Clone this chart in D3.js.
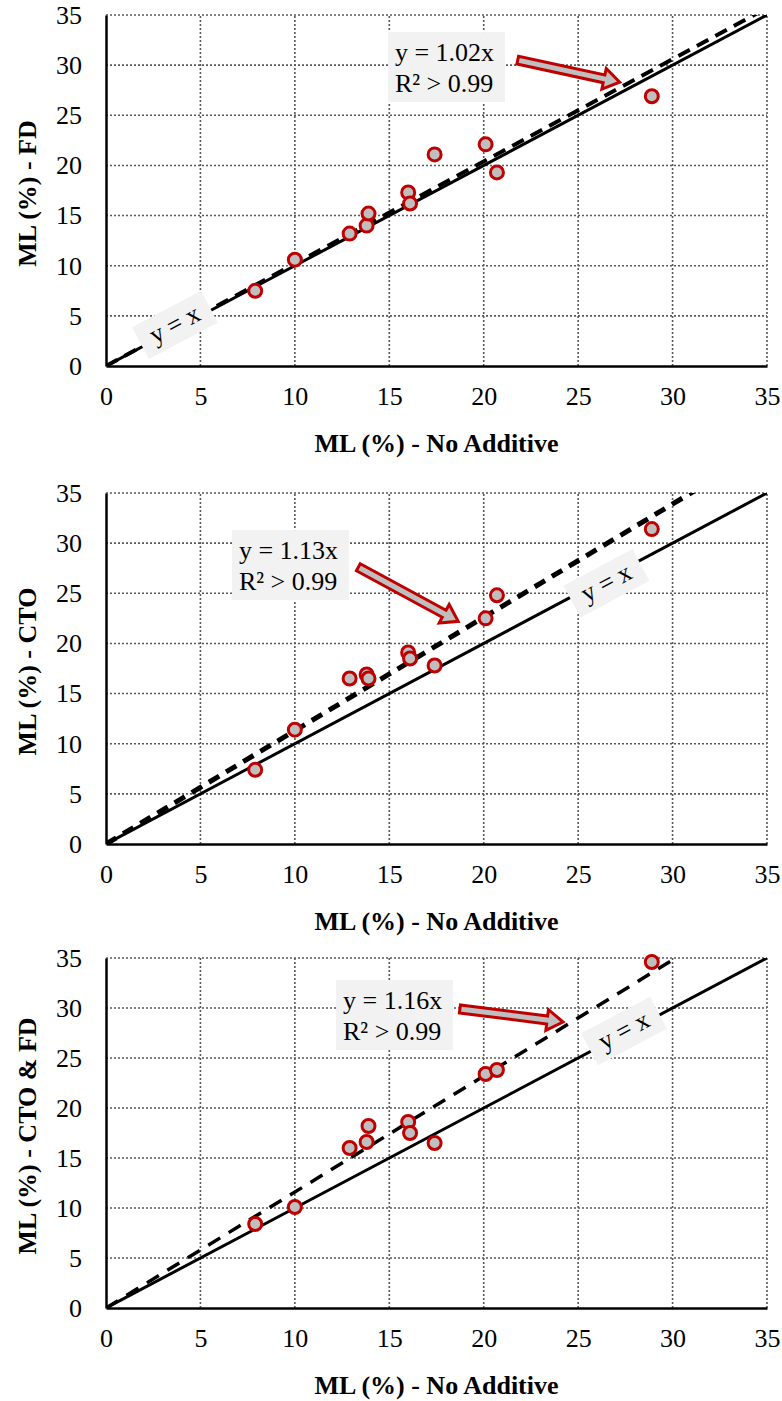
<!DOCTYPE html>
<html>
<head>
<meta charset="utf-8">
<script src="https://cdn.jsdelivr.net/npm/d3@7"></script>
<style>
  body { margin: 0; background: #fff; }
  text { font-family: "Liberation Serif", "Times New Roman", serif; }
</style>
</head>
<body>
<svg id="chart" width="782" height="1401"></svg>
<script>
// data
var ticks = [0, 5, 10, 15, 20, 25, 30, 35];
var noAdditive = [7.9, 10.0, 12.9, 13.8, 13.9, 16.0, 16.1, 17.4, 20.1, 20.7, 28.9];
var fd = [7.5, 10.6, 13.2, 14.0, 15.2, 17.3, 16.2, 21.1, 22.1, 19.3, 26.9];
var cto = [7.4, 11.4, 16.5, 16.9, 16.5, 19.1, 18.5, 17.8, 22.5, 24.8, 31.4];
var ctoFd = [8.4, 10.1, 16.0, 16.6, 18.2, 18.6, 17.5, 16.5, 23.4, 23.8, 34.6];
var yTitles = ["ML (%) - FD", "ML (%) - CTO", "ML (%) - CTO & FD"];
var xTitle = "ML (%) - No Additive";
var slopes = [1.02, 1.13, 1.16];
var trendEnd = [35, 35, 30];
var eqLabels = ["y = 1.02x", "y = 1.13x", "y = 1.16x"];
var r2Label = "R² > 0.99";

// annotation spots (data units)
var eqBox = [[14.93, 33.3], [6.67, 31.3], [12.18, 32.8]];
var arrowTail = [[21.8, 30.5], [13.36, 27.6], [18.74, 29.9]];
var arrowTip = [[27.2, 28.3], [18.65, 22.2], [24.2, 28.6]];
var idLabel = [[3.65, 4.1], [26.5, 26.0], [27.43, 27.7]];

var seriesY = [fd, cto, ctoFd];
var tops = [15, 493, 958];
var bottoms = [366, 844, 1308];
var dashStyle = [[4, "13,8"], [5, "12,8"], [3.5, "14,10"]];

var svg = d3.select("#chart");

seriesY.forEach(function (vals, p) {
  var x = d3.scaleLinear().domain([0, 35]).range([106, 767]);
  var y = d3.scaleLinear().domain([0, 35]).range([bottoms[p], tops[p]]);
  var g = svg.append("g");

  var clipId = "clip" + p;
  svg.append("clipPath").attr("id", clipId)
    .append("rect")
    .attr("x", x(0)).attr("y", y(35))
    .attr("width", x(35) - x(0)).attr("height", y(0) - y(35));

  // grid
  g.selectAll(".gx").data(ticks.slice(1)).enter().append("line")
    .attr("x1", d => x(d)).attr("x2", d => x(d))
    .attr("y1", y(0)).attr("y2", y(35))
    .attr("stroke", "#595959").attr("stroke-width", 1.6)
    .attr("stroke-dasharray", "2,2");
  g.selectAll(".gy").data(ticks.slice(1)).enter().append("line")
    .attr("y1", d => y(d)).attr("y2", d => y(d))
    .attr("x1", x(0)).attr("x2", x(35))
    .attr("stroke", "#595959").attr("stroke-width", 1.6)
    .attr("stroke-dasharray", "2,2");

  // axes
  var xa = g.append("g").attr("transform", "translate(0," + y(0) + ")")
    .call(d3.axisBottom(x).tickValues(ticks).tickSize(0).tickPadding(21));
  var ya = g.append("g").attr("transform", "translate(" + x(0) + ",0)")
    .call(d3.axisLeft(y).tickValues(ticks).tickSize(0).tickPadding(24));
  [xa, ya].forEach(function (a) {
    a.select(".domain").attr("stroke", "#000").attr("stroke-width", 2.5);
    a.selectAll("text").attr("font-size", 26).attr("fill", "#000")
      .attr("font-family", '"Liberation Serif", "Times New Roman", serif');
  });

  // trend line (dashed)
  var lines = g.append("g").attr("clip-path", "url(#" + clipId + ")");
  lines.append("line")
    .attr("x1", x(0)).attr("y1", y(0))
    .attr("x2", x(trendEnd[p])).attr("y2", y(trendEnd[p] * slopes[p]))
    .attr("stroke", "#000").attr("stroke-width", dashStyle[p][0])
    .attr("stroke-dasharray", dashStyle[p][1]);
  // y = x
  lines.append("line")
    .attr("x1", x(0)).attr("y1", y(0))
    .attr("x2", x(35)).attr("y2", y(35))
    .attr("stroke", "#000").attr("stroke-width", 3);

  // y = x label
  var ang = -Math.atan2(y(0) - y(35), x(35) - x(0)) * 180 / Math.PI;
  var lb = g.append("g")
    .attr("transform", "translate(" + x(idLabel[p][0]) + "," + y(idLabel[p][1]) + ") rotate(" + ang + ")");
  lb.append("rect").attr("x", -39).attr("y", -18).attr("width", 78).attr("height", 36)
    .attr("fill", "#f2f2f2");
  lb.append("text").attr("text-anchor", "middle").attr("dy", "0.3em")
    .attr("font-size", 26).text("y = x");

  // points
  g.selectAll("circle").data(noAdditive).enter().append("circle")
    .attr("cx", d => x(d)).attr("cy", (d, i) => y(vals[i]))
    .attr("r", 6.5).attr("fill", "#bfbfbf")
    .attr("stroke", "#c00000").attr("stroke-width", 3);

  // equation box
  var bx = x(eqBox[p][0]), by = y(eqBox[p][1]);
  g.append("rect").attr("x", bx).attr("y", by).attr("width", 117).attr("height", 70)
    .attr("fill", "#f2f2f2");
  g.append("text").attr("x", bx + 7).attr("y", by + 29).attr("font-size", 26).text(eqLabels[p]);
  g.append("text").attr("x", bx + 7).attr("y", by + 60).attr("font-size", 26).text(r2Label);

  // block arrow
  var t0 = [x(arrowTail[p][0]), y(arrowTail[p][1])];
  var t1 = [x(arrowTip[p][0]), y(arrowTip[p][1])];
  var dx = t1[0] - t0[0], dy = t1[1] - t0[1];
  var len = Math.sqrt(dx * dx + dy * dy);
  var ux = dx / len, uy = dy / len, nx = -uy, ny = ux;
  var sw = 4, hw = 10.5, hl = 16;
  var nk = [t1[0] - ux * hl, t1[1] - uy * hl];
  var pts = [
    [t0[0] + nx * sw, t0[1] + ny * sw],
    [nk[0] + nx * sw, nk[1] + ny * sw],
    [nk[0] + nx * hw, nk[1] + ny * hw],
    t1,
    [nk[0] - nx * hw, nk[1] - ny * hw],
    [nk[0] - nx * sw, nk[1] - ny * sw],
    [t0[0] - nx * sw, t0[1] - ny * sw]
  ];
  g.append("path").attr("d", d3.line()(pts) + "Z")
    .attr("fill", "#bfbfbf").attr("stroke", "#c00000").attr("stroke-width", 3)
    .attr("stroke-linejoin", "miter");

  // titles
  g.append("text").attr("x", (x(0) + x(35)) / 2).attr("y", y(0) + 86)
    .attr("text-anchor", "middle").attr("font-size", 26).attr("font-weight", "bold")
    .text(xTitle);
  g.append("text")
    .attr("transform", "translate(36," + ((y(0) + y(35)) / 2 + 3) + ") rotate(-90)")
    .attr("text-anchor", "middle").attr("font-size", 26).attr("font-weight", "bold")
    .text(yTitles[p]);
});
</script>
</body>
</html>
